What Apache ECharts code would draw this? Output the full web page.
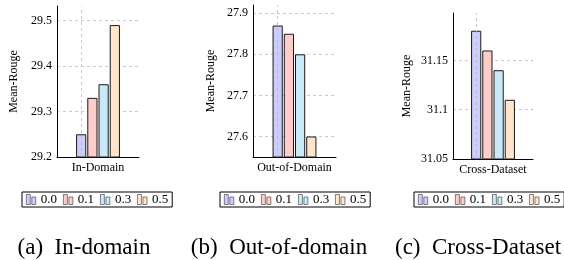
<!DOCTYPE html>
<html>
<head>
  <meta charset="utf-8">
  <title>Mean-Rouge</title>
  <script src="https://cdn.jsdelivr.net/npm/echarts@6/dist/echarts.min.js"></script>
</head>
<body style="margin:0;background:#fff;">
<div id="main" style="width: 564px;height:260px;"></div>
<script type="text/javascript">
  // data
  var levels = ['0.0', '0.1', '0.3', '0.5'];
  var colors = ['#ccccff', '#ffcccc', '#c9e8f8', '#ffe5cc'];
  var inDomain = [29.25, 29.33, 29.36, 29.49];
  var outDomain = [27.87, 27.85, 27.80, 27.60];
  var crossDataset = [31.18, 31.16, 31.14, 31.11];
  var panelCats = ['In-Domain', 'Out-of-Domain', 'Cross-Dataset'];
  var captions = ['(a)  In-domain', '(b)  Out-of-domain', '(c)  Cross-Dataset'];

  var font = 'Liberation Serif';
  var myChart = echarts.init(document.getElementById('main'), null, {renderer: 'canvas'});

  var grids = [
    {left: 57, top: 6, width: 82, height: 151},
    {left: 253, top: 5, width: 83, height: 152},
    {left: 453, top: 13, width: 80, height: 146}
  ];
  var yRanges = [
    {min: 29.2, max: 29.532, interval: 0.1},
    {min: 27.55, max: 27.92},
    {min: 31.05, max: 31.198, interval: 0.05}
  ];
  var nameGaps = [37, 36, 40];
  var legendLefts = [22, 220, 414];
  var captionX = [84, 279, 478];
  var allData = [inDomain, outDomain, crossDataset];

  var gridLine = {type: [3, 3], color: '#bdbdbd', width: 0.8};

  var xAxes = [], yAxes = [], series = [], legends = [], texts = [];
  for (var g = 0; g < 3; g++) {
    grids[g].outerBoundsMode = 'none';
    xAxes.push({
      type: 'category',
      gridIndex: g,
      data: [panelCats[g]],
      axisLine: {lineStyle: {color: '#000', width: 1}},
      axisTick: {show: false},
      axisLabel: {color: '#000', fontFamily: font, fontSize: 12, margin: 5},
      splitLine: {show: false}
    });
    var ya = {
      type: 'value',
      gridIndex: g,
      min: yRanges[g].min,
      max: yRanges[g].max,
      name: 'Mean-Rouge',
      nameLocation: 'middle',
      nameGap: nameGaps[g],
      nameTextStyle: {color: '#000', fontFamily: font, fontSize: 12},
      axisLine: {show: true, lineStyle: {color: '#000', width: 1}},
      axisTick: {show: false},
      axisLabel: {color: '#000', fontFamily: font, fontSize: 12, margin: 5,
        showMinLabel: g !== 1, showMaxLabel: false},
      splitLine: {show: true, showMinLine: false, showMaxLine: false, lineStyle: gridLine}
    };
    if (yRanges[g].interval) ya.interval = yRanges[g].interval;
    yAxes.push(ya);

    for (var i = 0; i < levels.length; i++) {
      var s = {
        name: levels[i],
        type: 'bar',
        xAxisIndex: g,
        yAxisIndex: g,
        barWidth: 10.2,
        barGap: '10%',
        data: [allData[g][i]],
        itemStyle: {color: colors[i], borderColor: '#1a1a1a', borderWidth: 1}
      };
      if (i === 0) {
        s.markLine = {
          silent: true,
          symbol: 'none',
          label: {show: false},
          lineStyle: gridLine,
          data: [{xAxis: panelCats[g]}]
        };
      }
      series.push(s);
    }

    legends.push({
      data: levels,
      left: legendLefts[g],
      top: 192,
      width: 152,
      orient: 'horizontal',
      selectedMode: false,
      icon: 'path://M0,0 h4 v10 h-4 z M5.5,2.5 h4 v7.5 h-4 z',
      itemWidth: 9.5,
      itemHeight: 10,
      itemGap: 6,
      itemStyle: {borderWidth: 0.6, borderColor: '#333'},
      padding: [1, 4],
      borderColor: '#000',
      borderWidth: 1,
      borderRadius: 0,
      backgroundColor: '#fff',
      textStyle: {color: '#000', fontFamily: font, fontSize: 13}
    });

    texts.push({
      type: 'text',
      x: captionX[g],
      y: 248,
      style: {
        text: captions[g],
        fill: '#000',
        font: '23px "Liberation Serif"',
        align: 'center',
        verticalAlign: 'middle'
      }
    });
  }

  var option = {
    animation: false,
    backgroundColor: '#fff',
    grid: grids,
    xAxis: xAxes,
    yAxis: yAxes,
    legend: legends,
    graphic: texts,
    series: series
  };

  myChart.setOption(option);
</script>
</body>
</html>
